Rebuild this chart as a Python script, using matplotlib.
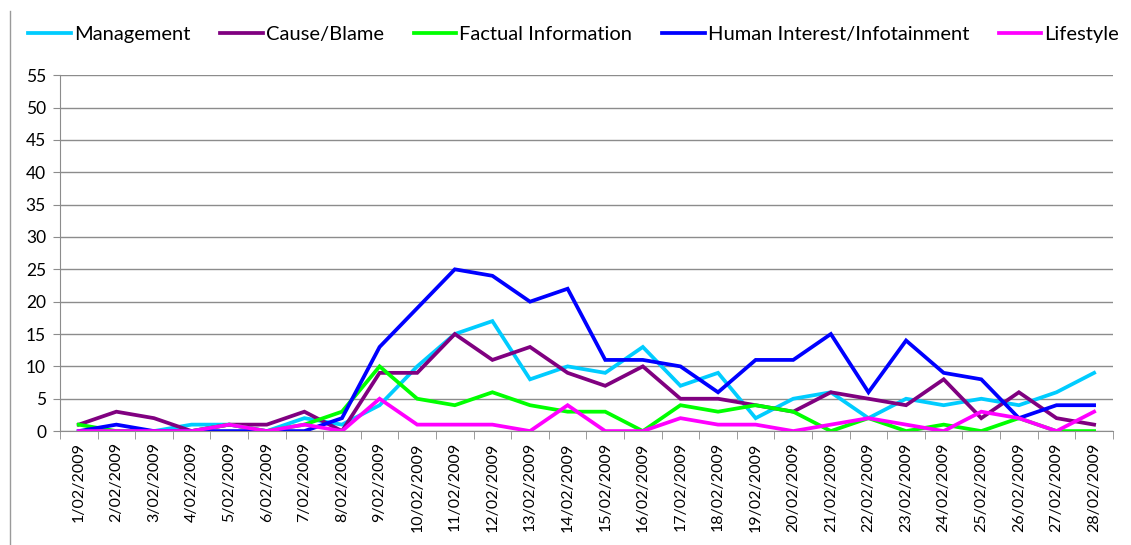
import numpy as np
import matplotlib.pyplot as plt
from matplotlib.lines import Line2D

# --- data (February 2009, daily counts per frame) ---
dates = [f"{d}/02/2009" for d in range(1, 29)]

management = [0, 0, 0, 1, 1, 0, 2, 1, 4, 10, 15, 17, 8, 10, 9, 13, 7, 9, 2, 5, 6, 2, 5, 4, 5, 4, 6, 9]
cause_blame = [1, 3, 2, 0, 1, 1, 3, 0, 9, 9, 15, 11, 13, 9, 7, 10, 5, 5, 4, 3, 6, 5, 4, 8, 2, 6, 2, 1]
factual = [1, 0, 0, 0, 1, 0, 1, 3, 10, 5, 4, 6, 4, 3, 3, 0, 4, 3, 4, 3, 0, 2, 0, 1, 0, 2, 0, 0]
human_interest = [0, 1, 0, 0, 0, 0, 0, 2, 13, 19, 25, 24, 20, 22, 11, 11, 10, 6, 11, 11, 15, 6, 14, 9, 8, 2, 4, 4]
lifestyle = [0, 0, 0, 0, 1, 0, 1, 0, 5, 1, 1, 1, 0, 4, 0, 0, 2, 1, 1, 0, 1, 2, 1, 0, 3, 2, 0, 3]

series = [
    ("Management", management, "#00CCFF"),
    ("Cause/Blame", cause_blame, "#800080"),
    ("Factual Information", factual, "#00FF00"),
    ("Human Interest/Infotainment", human_interest, "#0000FF"),
    ("Lifestyle", lifestyle, "#FF00FF"),
]

plt.rcParams['font.family'] = ['Lato', 'DejaVu Sans']

fig = plt.figure(figsize=(11.31, 5.45), dpi=100)
ax = fig.add_axes([0.053, 0.209, 0.931, 0.653])

x = np.arange(len(dates))
for name, vals, col in series:
    ax.plot(x, vals, color=col, lw=2.7, label=name, solid_joinstyle='miter')

# axes look like the old Excel chart
ax.set_xlim(-0.5, len(dates) - 0.5)
ax.set_ylim(0, 55)
ax.set_yticks(np.arange(0, 56, 5))
ax.yaxis.grid(True, color="#8c8c8c", lw=1)
ax.set_axisbelow(True)

ax.set_xticks(x)
ax.set_xticklabels(dates, rotation=90, fontsize=11.5)
ax.set_xticks(np.arange(-0.5, len(dates)), minor=True)
ax.tick_params(axis='x', which='major', length=0, pad=8)
ax.tick_params(axis='x', which='minor', length=6, color="#8c8c8c")
ax.tick_params(axis='y', length=5, color="#8c8c8c", labelsize=12.5, pad=5)

for side in ['top', 'right']:
    ax.spines[side].set_visible(False)
ax.spines['left'].set_color("#8c8c8c")
ax.spines['bottom'].set_color("#8c8c8c")

ax.legend(loc='lower center', bbox_to_anchor=(0.488, 1.04), ncol=5, frameon=False,
          fontsize=14.5, handlelength=2.1, handletextpad=0.15, columnspacing=1.5)

# chart area border on the left
fig.add_artist(Line2D([0.009, 0.009], [0.0, 0.98], color="#9a9a9a", lw=1))

fig.savefig("out.png", dpi=100)
